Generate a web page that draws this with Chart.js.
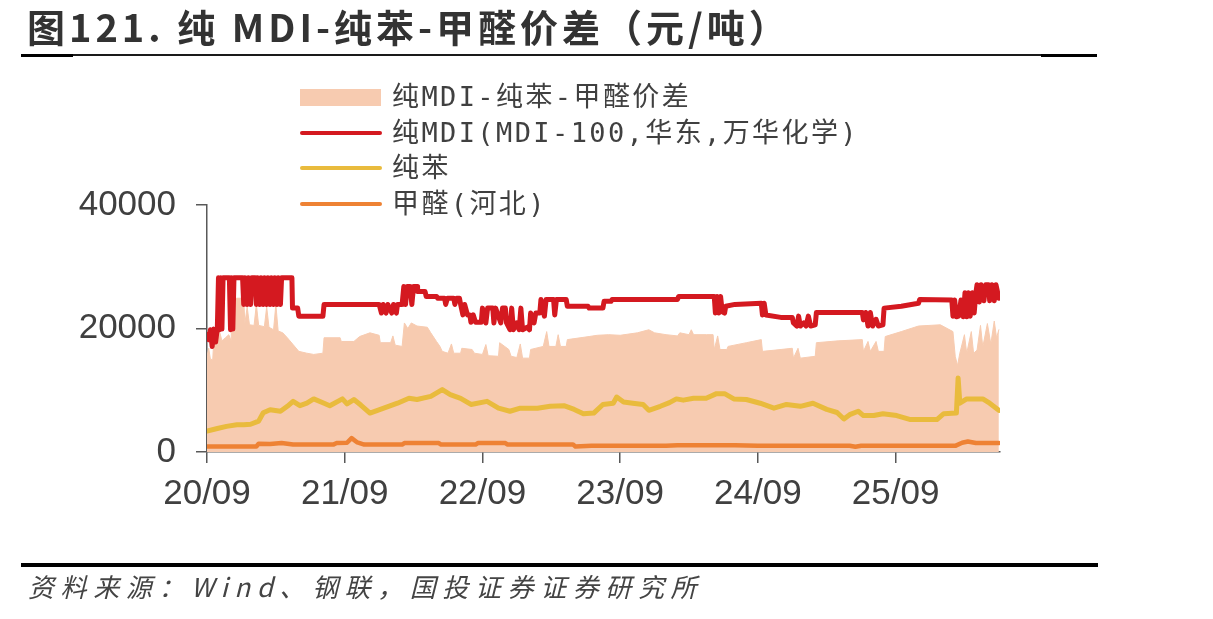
<!DOCTYPE html>
<html><head><meta charset="utf-8">
<script src="https://cdn.jsdelivr.net/npm/chart.js@4.4.1/dist/chart.umd.min.js"></script>
<style>
html,body{margin:0;padding:0;background:#fff;}
#wrap{position:relative;width:1213px;height:619px;overflow:hidden;background:#fff;}
#c{position:absolute;left:0;top:0;}
.title{position:absolute;left:27px;top:3px;font-family:"Noto Sans CJK SC",sans-serif;font-weight:bold;font-size:38px;letter-spacing:4px;color:#333;line-height:46px;white-space:nowrap;}
.rule{position:absolute;background:#000;}
.lg{position:absolute;left:300px;height:34px;display:flex;align-items:center;font-family:"DejaVu Sans Mono","Noto Sans CJK SC",monospace;font-size:27px;letter-spacing:2.4px;color:#404040;white-space:nowrap;line-height:34px;}
.sw{width:82px;margin-right:10px;flex:none;}
.src{position:absolute;left:28px;top:569px;font-family:"Noto Sans CJK SC",sans-serif;font-style:italic;font-size:26px;letter-spacing:6.6px;color:#444;line-height:34px;white-space:nowrap;}
</style></head>
<body>
<div id="wrap">
<canvas id="c" width="1213" height="619"></canvas>
<div class="title">图121. 纯 MDI-纯苯-甲醛价差（元/吨）</div>
<div class="rule" style="left:21px;top:54px;width:1076px;height:2px;background:#1a1a1a"></div>
<div class="rule" style="left:21px;top:54px;width:52px;height:3px;"></div>
<div class="rule" style="left:1041px;top:54px;width:56px;height:3px;"></div>
<div id="legend"></div>
<div class="rule" style="left:21px;top:563px;width:1077px;height:4px;"></div>
<div class="src">资料来源：Wind、钢联，国投证券证券研究所</div>
</div>
<script>
// ---- data (x = months since 2020-09) ----
const xTickMonths = [0, 12, 24, 36, 48, 60];
const xTickLabels = ['20/09', '21/09', '22/09', '23/09', '24/09', '25/09'];
const yTicks = [0, 20000, 40000];
const seriesNames = ['纯MDI-纯苯-甲醛价差', '纯MDI(MDI-100,华东,万华化学)', '纯苯', '甲醛(河北)'];

const spread = [[0,15500],[0.15,16800],[0.3,15000],[0.5,15000],[0.6,18500],[0.9,17500],[1.1,19500],[1.3,18000],[1.6,18500],[1.9,19000],[2.1,18000],[2.2,24900],[3.2,24900],[3.3,20800],[3.5,23500],[3.7,20600],[4.1,20500],[4.3,23900],[4.5,20500],[5.0,20300],[5.2,23500],[5.4,20200],[5.8,19800],[6.0,23900],[6.2,19600],[6.6,19300],[7.0,18500],[7.5,17400],[8.0,16300],[8.7,16000],[9.3,15800],[10.1,16000],[10.2,18500],[11.6,18500],[11.7,17900],[12.8,17900],[13.3,18700],[14.2,19300],[15.0,18900],[15.1,17700],[16.0,17700],[16.2,18800],[16.4,17300],[17.0,17100],[17.2,20900],[17.5,20000],[17.8,20900],[18.3,20400],[19.2,20200],[19.5,19300],[20.0,17900],[20.3,17100],[20.5,16300],[21.0,16000],[21.3,17500],[21.5,16000],[22.1,16000],[22.2,16800],[23.1,16600],[23.3,16000],[24.0,15800],[24.3,17400],[24.5,15600],[25.4,15500],[25.5,17700],[26.3,16600],[26.5,15500],[27.0,15300],[27.3,17500],[27.5,15200],[28.1,15200],[28.2,16600],[29.3,17100],[29.6,19500],[29.8,17100],[30.4,17100],[30.6,19000],[30.8,17100],[31.3,17100],[31.4,18200],[33.3,18700],[34.0,18900],[35.0,19000],[36.0,18900],[37.5,19300],[38.5,19800],[39.0,19300],[40.0,19000],[41.0,18800],[41.2,19300],[42.0,19000],[42.2,19800],[42.4,19000],[43.5,19000],[44.1,19000],[44.2,16600],[44.5,18800],[44.7,16600],[45.3,16600],[45.4,17100],[47.0,17700],[48.3,18200],[48.4,16300],[49.5,16500],[51.0,16800],[51.1,15200],[51.5,16800],[51.7,15200],[53.0,15500],[53.1,17700],[55.0,18000],[57.1,18200],[57.2,16300],[57.6,17900],[57.8,16300],[58.3,17900],[58.5,16300],[59.0,16300],[59.1,18700],[60.5,19500],[62.0,20400],[63.9,20600],[65.0,19500],[65.2,15500],[65.4,14000],[65.6,16000],[66.0,19000],[66.2,16000],[66.6,19500],[66.8,16000],[67.1,16500],[67.4,20500],[67.6,17000],[68.0,20800],[68.3,17500],[68.6,21200],[68.8,18500],[69.0,19800]];

const mdi = [[0,19000],[0.15,18200],[0.3,19800],[0.45,17100],[0.6,19900],[0.75,17800],[0.9,20000],[1.0,28200],[1.1,19800],[1.2,28200],[1.3,19900],[1.4,28200],[1.95,28200],[2.05,19800],[2.15,28200],[2.25,19900],[2.35,28200],[3.1,28200],[3.2,23900],[3.3,28200],[3.5,23900],[3.6,28200],[3.8,23900],[3.9,28200],[4.2,28200],[4.3,23900],[4.4,28200],[4.6,23900],[4.7,28200],[4.9,23900],[5.0,28200],[5.2,23900],[5.3,28200],[5.5,23900],[5.6,28200],[5.8,23900],[5.9,28200],[6.1,23900],[6.2,28200],[6.4,23900],[6.5,28200],[7.4,28200],[7.45,23300],[7.9,23300],[8.0,22000],[10.1,22000],[10.2,23900],[15.0,23900],[15.2,22500],[15.35,23900],[15.6,22500],[15.75,23900],[16.1,22500],[16.25,23900],[16.5,22500],[16.6,23900],[17.0,23900],[17.15,26800],[17.3,23900],[17.45,26800],[17.7,26800],[17.85,23900],[18.0,26800],[18.3,26800],[18.35,26000],[19.0,26000],[19.1,25200],[20.0,25200],[20.1,24900],[20.7,24900],[20.8,23900],[20.95,24900],[21.5,24900],[21.6,23900],[21.75,24900],[22.0,24900],[22.1,23900],[22.3,22200],[22.45,23900],[22.7,22200],[22.9,22200],[23.0,21000],[23.2,22200],[23.4,21000],[23.9,21000],[24.0,23300],[24.3,20900],[24.45,23300],[24.9,23300],[25.0,20900],[25.15,23300],[25.6,20900],[25.75,23300],[26.0,23300],[26.1,20900],[26.4,19800],[26.55,23300],[26.7,19800],[27.0,20900],[27.2,19800],[27.35,23300],[27.5,19800],[27.9,20200],[28.1,19800],[28.2,22500],[28.5,20900],[28.65,22500],[29.0,22500],[29.1,24700],[29.4,22000],[29.55,24700],[30.2,24700],[30.3,22200],[30.45,24700],[31.3,24700],[31.4,23600],[33.2,23600],[33.3,23300],[34.5,23300],[34.6,24400],[35.2,24400],[35.3,24700],[41.0,24700],[41.1,25200],[44.2,25200],[44.3,22500],[44.45,25200],[44.6,22500],[44.75,25200],[44.9,22700],[45.1,22500],[45.2,23600],[46.0,23900],[48.3,24100],[48.4,22200],[48.55,24100],[48.7,22200],[50.0,21800],[51.0,21800],[51.1,20900],[51.4,20400],[51.55,22000],[51.7,20400],[52.0,20900],[52.2,20400],[52.4,22000],[52.6,20400],[53.0,20600],[53.1,22600],[57.1,22600],[57.2,21400],[57.4,22600],[57.6,20400],[57.8,22600],[58.0,20400],[58.3,21500],[58.5,20400],[58.9,20600],[59.0,23300],[60.5,23600],[62.0,24100],[62.1,24700],[64.9,24600],[65.0,22000],[65.15,24600],[65.3,21900],[65.5,22000],[65.7,24600],[65.9,21900],[66.05,25800],[66.2,21900],[66.35,25800],[66.5,22000],[66.7,25800],[66.85,22500],[67.0,25800],[67.1,27100],[67.3,24300],[67.45,27100],[67.7,24500],[67.85,27100],[68.1,27100],[68.2,24500],[68.4,27100],[68.6,24500],[68.75,27100],[69.0,24900]];

const benzene = [[0,3400],[0.9,3800],[1.7,4150],[2.6,4400],[3.2,4400],[3.8,4500],[4.5,5000],[4.9,6350],[5.5,6850],[6.4,6600],[7.0,7400],[7.5,8200],[8.1,7500],[8.7,7900],[9.3,8600],[10.2,7900],[10.7,7500],[11.8,8600],[12.2,7800],[12.8,8500],[13.4,7600],[14.2,6300],[15.1,6900],[16.6,7900],[17.6,8700],[18.3,8500],[19.5,9000],[20.5,10100],[21.2,9300],[22.1,8700],[23.0,7700],[24.4,8200],[25.4,7100],[26.4,6600],[27.3,7100],[28.8,7100],[29.9,7400],[31.1,7500],[32.0,6900],[32.8,6200],[33.7,6300],[34.5,7700],[35.4,7900],[35.7,8900],[36.3,8100],[37.1,7900],[38.0,7700],[38.5,6750],[39.5,7400],[40.3,8000],[40.9,8600],[41.5,8400],[42.4,8700],[43.5,8700],[44.4,9450],[45.1,9450],[45.9,8600],[47.0,8500],[48.2,7900],[49.4,7100],[50.5,7700],[51.7,7400],[52.8,7900],[54.0,6900],[54.9,6400],[55.5,5350],[56.0,6050],[56.75,6600],[57.2,5900],[58.1,5900],[58.9,6200],[60.1,5900],[61.3,5250],[63.6,5250],[64.2,6200],[65.3,6300],[65.45,12000],[65.6,7900],[66.2,8600],[67.6,8600],[68.2,7900],[69.0,6750]];

const formaldehyde = [[0,900],[4.3,900],[4.5,1350],[5.5,1300],[6.5,1450],[7.5,1200],[11.0,1200],[11.3,1450],[12.2,1500],[12.6,2250],[13.1,1550],[13.7,1200],[17.0,1200],[17.2,1450],[20.2,1450],[20.4,1200],[23.4,1200],[23.6,1450],[26.0,1450],[26.2,1200],[31.9,1200],[32.1,900],[33.5,1000],[40.0,1000],[41.0,1100],[46.0,1100],[48.0,1000],[56.0,1000],[56.5,850],[57.0,1000],[65.2,1000],[65.8,1500],[66.3,1700],[67.0,1450],[69.0,1450]];

const colors = ['#f7cbb0', '#d41920', '#e9bb3d', '#ee8234'];

// ---- legend (HTML) ----
const lgTops = [80, 116, 151, 187];
const lg = document.getElementById('legend');
seriesNames.forEach((n, i) => {
  const row = document.createElement('div');
  row.className = 'lg';
  row.style.top = lgTops[i] + 'px';
  const sw = document.createElement('div');
  sw.className = 'sw';
  if (i === 0) { sw.style.height = '17px'; sw.style.width = '81px'; sw.style.marginRight = '11px'; }
  else { sw.style.height = '4.5px'; sw.style.borderRadius = '2px'; }
  sw.style.background = colors[i];
  const tx = document.createElement('span');
  tx.textContent = n;
  row.appendChild(sw); row.appendChild(tx);
  lg.appendChild(row);
});

const toXY = a => a.map(p => ({x: p[0], y: p[1]}));
const lineDs = (label, data, color, w, order) => ({
  label, data: toXY(data), borderColor: color, backgroundColor: color,
  borderWidth: w, pointRadius: 0, pointHitRadius: 0, tension: 0, fill: false,
  borderJoinStyle: 'round', borderCapStyle: 'round', order
});

const tickFont = {family: '"Liberation Sans", Arial, sans-serif', size: 35};
new Chart(document.getElementById('c'), {
  type: 'line',
  data: {
    datasets: [
      Object.assign(lineDs(seriesNames[0], spread, colors[0], 1, 3), {fill: 'origin', backgroundColor: colors[0]}),
      lineDs(seriesNames[3], formaldehyde, colors[3], 4.5, 2),
      lineDs(seriesNames[2], benzene, colors[2], 5, 1),
      lineDs(seriesNames[1], mdi, colors[1], 5, 0)
    ]
  },
  options: {
    responsive: false, animation: false, devicePixelRatio: 1,
    layout: {padding: {left: 0, right: 213, top: 205, bottom: 107}},
    plugins: {legend: {display: false}, tooltip: {enabled: false}, title: {display: false}},
    scales: {
      x: {
        type: 'linear', min: 0, max: 69.1,
        afterBuildTicks: s => { s.ticks = xTickMonths.map(v => ({value: v})); },
        afterFit: s => { s.height = 60; },
        ticks: {autoSkip: false, maxRotation: 0, includeBounds: false, padding: 10, color: '#404040', font: tickFont,
          callback: (v, i) => xTickLabels[i]},
        grid: {display: true, drawOnChartArea: false, drawTicks: true, tickLength: 11, color: '#595959', lineWidth: 1.5},
        border: {display: true, color: '#595959', width: 1.5}
      },
      y: {
        min: 0, max: 40000,
        afterBuildTicks: s => { s.ticks = yTicks.map(v => ({value: v})); },
        afterFit: s => { s.width = 207; },
        ticks: {padding: 20, color: '#404040', font: tickFont, callback: v => String(v)},
        grid: {display: true, drawOnChartArea: false, drawTicks: true, tickLength: 11, color: '#595959', lineWidth: 1.5},
        border: {display: true, color: '#595959', width: 1.5}
      }
    }
  }
});
</script>
</body></html>
